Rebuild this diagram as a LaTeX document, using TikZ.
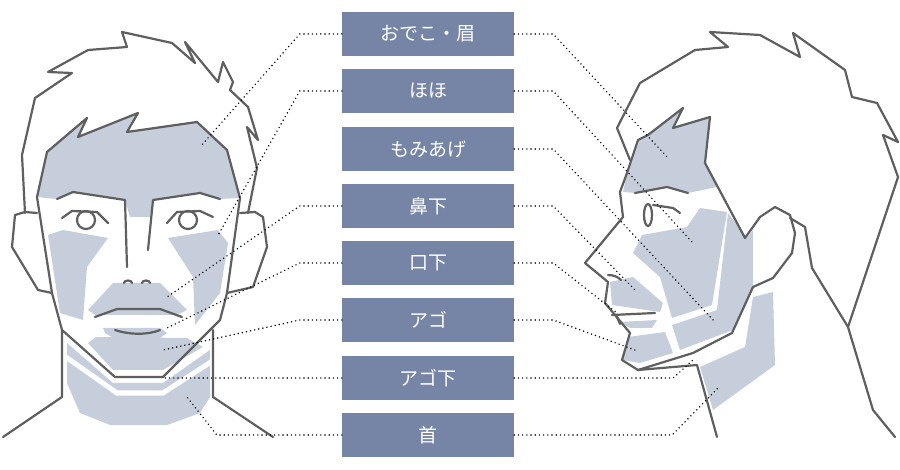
\documentclass[tikz,border=0pt]{standalone}
\usepackage{fontspec}
\newfontfamily\jp{Noto Sans CJK JP}
\begin{document}
\begin{tikzpicture}[x=1pt,y=-1pt,
  ol/.style={draw=outl,line width=2.2pt,line join=round,line cap=round},
  sk/.style={fill=skin},
  lbl/.style={fill=boxc,text=white,minimum width=172pt,minimum height=44pt,inner sep=0pt,font=\jp\fontsize{19}{19}\selectfont},
  dots/.style={draw=black,line width=1.6pt,line cap=round,dash pattern=on 0pt off 4.2pt}]
\definecolor{outl}{HTML}{5F5F60}
\definecolor{skin}{HTML}{C6CEDB}
\definecolor{boxc}{HTML}{7685A6}
\useasboundingbox (0,0) rectangle (900,470);
% ---------- LEFT FACE fills
\fill[sk] (37,197)--(47,152)--(87,118)--(78,137)--(138,113)--(127,132)--(197,122)--(227,150)--(240,198)--(220,199)--(200,193)--(153,200)--(150,217)--(130,217)--(125,200)--(73,193)--(55,199)--cycle;
\fill[sk] (48,235)--(63,230)--(108,238)--(87,267)--(83,320)--(60,313)--cycle;
\fill[sk] (168,238)--(218,230)--(228,243)--(220,293)--(195,325)--(193,277)--cycle;
\fill[sk] (88,310)--(113,283)--(160,283)--(187,310)--(177,315)--(95,315)--cycle;
\fill[sk] (103,328)--(160,328)--(167,333)--(157,340)--(117,340)--(105,333)--cycle;
\fill[sk] (88,343)--(96,337)--(187,338)--(203,347)--(163,370)--(113,370)--cycle;
\fill[sk] (67,343)--(113,383)--(163,383)--(210,350)--(210,397)--(200,413)--(167,425)--(110,425)--(80,413)--(67,383)--cycle;
\draw[white,line width=5pt] (63,355)--(117,393)--(163,393)--(214,360);
% outlines
\draw[ol] (25,213)--(22,155)--(35,98)--(72,73)--(48,72)--(88,50)--(127,47)--(122,32)--(172,43)--(195,63)--(185,42)--(218,82)--(223,62)--(233,82)--(230,90)--(248,107)--(258,140)--(247,127)--(257,168)--(248,213);
\draw[ol] (37,197)--(47,152)--(87,118)--(78,137)--(138,113)--(127,132)--(197,122)--(227,150)--(240,198)--(227,293)--(220,320)--(163,377)--(115,377)--(62,330)--(52,293)--cycle;
\draw[ol] (57,199)--(73,192)--(125,200)--(127,267);
\draw[ol] (220,199)--(200,193)--(153,200)--(148,250);
\draw[ol] (86,220) circle (9);
\draw[ol] (188,220) circle (9);
\draw[ol] (62,218)--(72,211)--(97,212)--(108,223);
\draw[ol] (167,223)--(177,212)--(200,211)--(213,217);
\draw[ol] (124,283) arc (180:360:4 and 2.5);
\draw[ol] (142,283) arc (180:360:4 and 2.5);
\draw[ol] (95,317)--(117,309)--(160,309)--(182,317);
\draw[ol] (115,330) .. controls (130,335) and (148,335) .. (160,330);
\draw[ol] (37,213)--(25,212)--(15,215)--(12,247)--(38,290)--(52,293);
\draw[ol] (240,213)--(255,212)--(263,217)--(267,247)--(253,287)--(227,293);
\draw[ol] (62,330)--(62,397)--(3,437);
\draw[ol] (213,330)--(213,397)--(273,437);
% ---------- RIGHT FACE fills
\fill[sk] (640,140)--(683,108)--(673,128)--(710,117)--(705,163)--(717,187)--(688,193)--(667,187)--(635,193)--(623,192)--(627,173)--(638,140)--cycle;
\fill[sk] (642,235)--(687,227)--(700,208)--(727,212)--(712,305)--(672,318)--(660,277)--(633,253)--cycle;
\fill[sk] (728,213)--(747,238)--(753,230)--(753,285)--(733,330)--(680,350)--(672,325)--(717,310)--cycle;
\fill[sk] (610,282)--(633,277)--(663,303)--(660,312)--(612,305)--cycle;
\fill[sk] (620,322)--(657,320)--(652,328)--(630,328)--cycle;
\fill[sk] (628,337)--(665,332)--(673,353)--(640,363)--(623,360)--cycle;
\fill[sk] (700,367)--(745,347)--(753,297)--(773,292)--(775,365)--(713,410)--cycle;
% outlines
\draw[ol] (630,160)--(617,128)--(640,83)--(695,50)--(728,47)--(710,32)--(760,35)--(800,57)--(793,33)--(845,70)--(852,97)--(877,103)--(898,142)--(883,135)--(898,177)--(848,327)--(873,410)--(895,437);
\draw[ol] (648,135)--(638,140)--(627,173)--(620,192)--(623,217)--(585,263)--(608,282)--(605,303)--(615,315)--(630,333)--(622,360)--(638,370)--(697,365)--(717,437);
\draw[ol] (648,135)--(683,108)--(673,128)--(710,117)--(705,163)--(745,238);
\draw[ol] (745,238)--(760,217)--(775,207)--(790,215)--(795,233)--(792,253)--(773,278)--(753,287)--(732,333)--(693,353)--(638,370);
\draw[ol] (790,218)--(805,227)--(812,268)--(848,327);
\draw[ol] (635,193)--(667,187)--(688,193);
\draw[ol] (648,215) ellipse (4 and 11);
\draw[ol] (653,205)--(673,208)--(680,213);
\draw[ol] (608,275) .. controls (614,275) and (618,277) .. (621,280);
\draw[ol] (612,315)--(655,313);
\draw[ol] (617,317)--(620,324);
% ---------- labels
\node[lbl] (b1) at (428,34) {おでこ・眉};
\node[lbl] (b2) at (428,91) {ほほ};
\node[lbl] (b3) at (428,149) {もみあげ};
\node[lbl] (b4) at (428,206) {鼻下};
\node[lbl] (b5) at (428,263) {口下};
\node[lbl] (b6) at (428,320) {アゴ};
\node[lbl] (b7) at (428,378) {アゴ下};
\node[lbl] (b8) at (428,435) {首};
% left connectors
\coordinate (l1) at (200,147); \coordinate (l2) at (217,237);
\coordinate (l4) at (167,297); \coordinate (l5) at (167,328);
\coordinate (l6) at (163,350); \coordinate (l7) at (162,378);
\coordinate (l8) at (187,397);
\draw[dots] (b1.west) -- ++(-42,0) -- (l1);
\draw[dots] (b2.west) -- ++(-42,0) -- (l2);
\draw[dots] (b4.west) -- ++(-42,0) -- (l4);
\draw[dots] (b5.west) -- ++(-42,0) -- (l5);
\draw[dots] (b6.west) -- ++(-42,0) -- (l6);
\draw[dots] (b7.west) -- (l7);
\draw[dots] (b8.west) -- ++(-125,0) -- (l8);
% right connectors
\coordinate (r1) at (668,158); \coordinate (r2) at (693,243);
\coordinate (r3) at (715,322); \coordinate (r4) at (635,290);
\coordinate (r5) at (617,313); \coordinate (r6) at (635,350);
\coordinate (r7) at (693,360); \coordinate (r8) at (718,388);
\draw[dots] (b1.east) -- ++(39,0) -- (r1);
\draw[dots] (b2.east) -- ++(39,0) -- (r2);
\draw[dots] (b3.east) -- ++(39,0) -- (r3);
\draw[dots] (b4.east) -- ++(39,0) -- (r4);
\draw[dots] (b5.east) -- ++(39,0) -- (r5);
\draw[dots] (b6.east) -- ++(39,0) -- (r6);
\draw[dots] (b7.east) -- ++(159,0) -- (r7);
\draw[dots] (b8.east) -- ++(158,0) -- (r8);
\end{tikzpicture}
\end{document}
